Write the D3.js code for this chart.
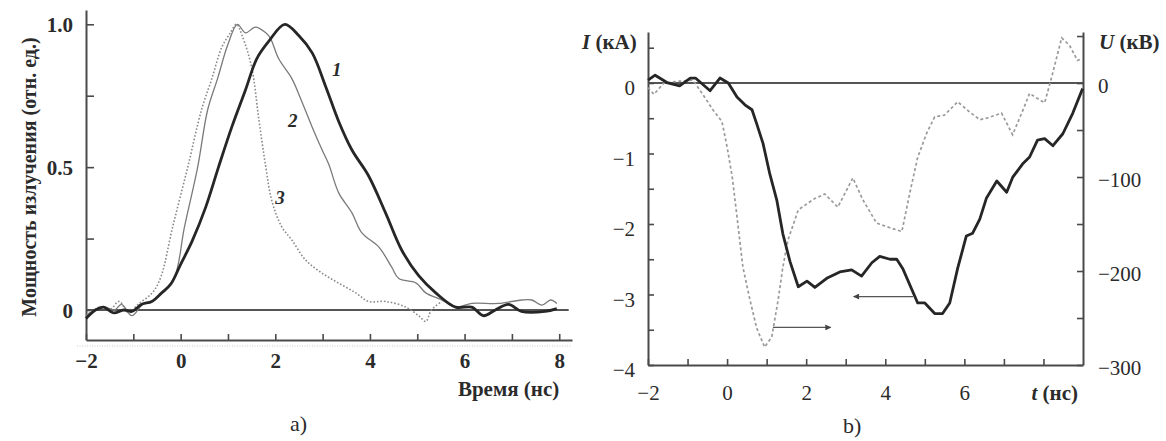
<!DOCTYPE html>
<html>
<head>
<meta charset="utf-8">
<script src="https://cdn.jsdelivr.net/npm/d3@7/dist/d3.min.js"></script>
<style>
  html, body { margin: 0; padding: 0; background: #fff; }
  svg { display: block; }
  text { font-family: "Liberation Serif", "Times New Roman", serif; fill: #2b2b2b; }
</style>
</head>
<body>
<svg id="chart" width="1166" height="441"></svg>
<script>
// ---------- Panel a) : radiation power vs time ----------
const timeA1 = [-2, -1.8, -1.63, -1.42, -1.2, -1.03, -0.82, -0.61, -0.4, -0.21, 0, 0.24, 0.53, 0.8, 1.08, 1.37, 1.61, 1.86, 2.2, 2.5, 2.78, 3.07, 3.34, 3.62, 3.97, 4.33, 4.67, 5.03, 5.39, 5.81, 6.15, 6.4, 6.65, 6.93, 7.2, 7.7, 7.95];
const power1 = [-0.03, 0, 0.01, -0.01, 0, -0.005, 0.02, 0.03, 0.06, 0.09, 0.16, 0.24, 0.36, 0.5, 0.64, 0.77, 0.88, 0.94, 1.0, 0.96, 0.9, 0.78, 0.66, 0.56, 0.47, 0.34, 0.21, 0.12, 0.06, 0.01, 0.01, -0.02, 0, 0.02, -0.005, -0.005, 0.005];

const timeA2 = [-2, -1.8, -1.6, -1.4, -1.25, -1.03, -0.8, -0.6, -0.4, -0.13, 0.08, 0.36, 0.57, 0.78, 1.0, 1.2, 1.37, 1.58, 1.8, 1.9, 2.07, 2.35, 2.56, 2.78, 2.99, 3.13, 3.34, 3.62, 3.83, 4.19, 4.46, 4.61, 4.97, 5.18, 5.52, 5.81, 6.15, 6.72, 7.21, 7.42, 7.63, 7.82, 7.95];
const power2 = [-0.02, 0.0, 0.01, 0.0, 0.02, -0.02, 0.02, 0.03, 0.06, 0.115, 0.29, 0.5, 0.7, 0.81, 0.93, 1.0, 0.97, 0.99, 0.97, 0.95, 0.88, 0.81, 0.73, 0.64, 0.56, 0.51, 0.41, 0.34, 0.27, 0.22, 0.15, 0.11, 0.095, 0.06, 0.035, 0.01, 0.023, 0.023, 0.035, 0.035, 0.017, 0.035, 0.023];

const timeA3 = [-2, -1.7, -1.5, -1.3, -1.1, -0.9, -0.6, -0.42, -0.17, 0.15, 0.44, 0.66, 0.87, 1.05, 1.18, 1.3, 1.5, 1.65, 1.8, 1.93, 2.14, 2.35, 2.64, 2.98, 3.34, 3.7, 3.97, 4.33, 4.76, 5.03, 5.18, 5.3, 5.52];
const power3 = [-0.02, 0.01, 0.0, 0.03, -0.01, 0.02, 0.06, 0.115, 0.29, 0.5, 0.7, 0.81, 0.92, 0.97, 1.0, 0.96, 0.85, 0.67, 0.5, 0.38, 0.29, 0.245, 0.175, 0.13, 0.094, 0.06, 0.03, 0.03, 0.01, -0.02, -0.04, 0, 0.03];

const ticksA_x = [-2, -1, 0, 1, 2, 3, 4, 5, 6, 7, 8];
const labelsA_x = [-2, 0, 2, 4, 6, 8];
const ticksA_y = [0, 0.25, 0.5, 0.75, 1.0];
const labelsA_y = ["0", "0.5", "1.0"];

// ---------- Panel b) : current and voltage vs time ----------
const timeI = [-2, -1.82, -1.5, -1.2, -0.93, -0.8, -0.43, -0.18, 0.03, 0.25, 0.45, 0.63, 0.75, 0.91, 1.08, 1.26, 1.41, 1.59, 1.8, 2.02, 2.22, 2.52, 2.85, 3.15, 3.4, 3.66, 3.86, 4.12, 4.29, 4.44, 4.82, 5.0, 5.25, 5.45, 5.63, 5.83, 6.05, 6.21, 6.39, 6.56, 6.82, 7.07, 7.22, 7.47, 7.65, 7.85, 8.03, 8.24, 8.49, 8.74, 8.99];
const currentI = [0.04, 0.11, 0, -0.04, 0.07, 0.07, -0.11, 0.07, 0, -0.2, -0.31, -0.38, -0.58, -0.86, -1.29, -1.67, -2.14, -2.53, -2.89, -2.81, -2.9, -2.77, -2.68, -2.65, -2.74, -2.55, -2.46, -2.5, -2.5, -2.63, -3.12, -3.12, -3.27, -3.27, -3.12, -2.63, -2.17, -2.13, -1.93, -1.63, -1.39, -1.55, -1.34, -1.15, -1.05, -0.81, -0.79, -0.89, -0.72, -0.43, -0.08];

const timeU = [-2, -1.85, -1.6, -1.2, -0.86, -0.6, -0.35, -0.13, 0, 0.13, 0.25, 0.4, 0.58, 0.75, 0.95, 1.13, 1.29, 1.41, 1.54, 1.8, 2.17, 2.47, 2.8, 3.18, 3.43, 3.78, 4.12, 4.42, 4.62, 4.82, 5.05, 5.25, 5.5, 5.83, 6.14, 6.39, 6.59, 6.94, 7.22, 7.45, 7.65, 7.83, 8.03, 8.2, 8.46, 8.66, 8.86, 8.97];
const voltageU = [-5, -12, 0, 2, 3, -13, -29, -41, -68, -100, -142, -196, -231, -261, -281, -270, -231, -196, -167, -135, -124, -118, -132, -101, -124, -149, -154, -158, -117, -79, -53, -36, -34, -20, -31, -39, -37, -32, -55, -32, -11, -16, -21, 5, 48, 40, 24, 26];

const ticksB_x = [-2, -1, 0, 1, 2, 3, 4, 5, 6, 7, 8];
const labelsB_x = [-2, 0, 2, 4, 6];
const ticksB_I = [-4, -3.5, -3, -2.5, -2, -1.5, -1, -0.5, 0, 0.5];
const labelsB_I = [-4, -3, -2, -1, 0];
const ticksB_U = [-300, -250, -200, -150, -100, -50, 0, 50];
const labelsB_U = [-300, -200, -100, 0];

// arrow annotations (data coords): [t start, t end, value]
const arrowI = [4.7, 3.2, -3.03];
const arrowU = [1.16, 2.62, -260];

// ================= drawing =================
const svg = d3.select("#chart");
const minus = v => (v < 0 ? "\u2212" + Math.abs(v) : String(v));
const axisColor = "#4a4a4a";

function styleAxis(g, fontSize, weight) {
  g.select(".domain").attr("stroke", axisColor).attr("stroke-width", 2);
  g.selectAll(".tick line").attr("stroke", axisColor).attr("stroke-width", 1.6);
  g.selectAll(".tick text")
    .attr("font-family", "Liberation Serif")
    .attr("font-size", fontSize)
    .attr("font-weight", weight)
    .attr("fill", "#2b2b2b");
}

// ---- Panel a ----
const xA = d3.scaleLinear().domain([-2, 8.27]).range([86, 572]);
const yA = d3.scaleLinear().domain([-0.105, 1.05]).range([340, 10]);

const gA = svg.append("g");

// zero line
gA.append("line")
  .attr("x1", xA(-2)).attr("x2", xA(8.2))
  .attr("y1", yA(0)).attr("y2", yA(0))
  .attr("stroke", "#555").attr("stroke-width", 2);

// faint dotted scan line under the time axis
gA.append("line")
  .attr("x1", 77).attr("x2", xA(8.27))
  .attr("y1", yA(-0.105) + 6).attr("y2", yA(-0.105) + 6)
  .attr("stroke", "#c8c8c8").attr("stroke-width", 1).attr("stroke-dasharray", "1,1.5");

const axA_x = gA.append("g")
  .attr("transform", `translate(0,${yA(-0.105)})`)
  .call(d3.axisBottom(xA).tickValues(ticksA_x).tickSizeInner(-6).tickSizeOuter(0).tickPadding(13)
    .tickFormat(d => labelsA_x.includes(d) ? minus(d) : ""));
styleAxis(axA_x, 21, "bold");

const axA_y = gA.append("g")
  .attr("transform", `translate(${xA(-2)},0)`)
  .call(d3.axisLeft(yA).tickValues(ticksA_y).tickSizeInner(-8).tickSizeOuter(0).tickPadding(13)
    .tickFormat(d => { const s = d === 1 ? "1.0" : String(d); return labelsA_y.includes(s) ? s : ""; }));
styleAxis(axA_y, 21, "bold");
axA_y.selectAll(".tick text").attr("dy", "0.36em");

const lineA = d3.line().curve(d3.curveCatmullRom.alpha(0.5));
const ptsA = (ts, vs) => ts.map((t, i) => [xA(t), yA(vs[i])]);

gA.append("path").attr("d", lineA(ptsA(timeA3, power3)))
  .attr("fill", "none").attr("stroke", "#8a8a8a").attr("stroke-width", 1.6)
  .attr("stroke-dasharray", "1.6,1.9");
gA.append("path").attr("d", lineA(ptsA(timeA2, power2)))
  .attr("fill", "none").attr("stroke", "#7a7a7a").attr("stroke-width", 1.3);
gA.append("path").attr("d", lineA(ptsA(timeA1, power1)))
  .attr("fill", "none").attr("stroke", "#262626").attr("stroke-width", 2.8)
  .attr("stroke-linejoin", "round");

// curve labels
const curveLabel = (x, y, s) => gA.append("text").attr("x", x).attr("y", y)
  .attr("font-size", 19).attr("font-style", "italic").attr("font-weight", "bold")
  .attr("fill", "#444").text(s);
curveLabel(xA(3.2), yA(0.82), "1");
curveLabel(xA(2.27), yA(0.64), "2");
curveLabel(xA(2.0), yA(0.37), "3");

// axis titles
gA.append("text")
  .attr("transform", `translate(36,${177}) rotate(-90)`)
  .attr("text-anchor", "middle")
  .attr("font-size", 20).attr("font-weight", "bold")
  .text("Мощность излучения (отн. ед.)");
gA.append("text")
  .attr("x", xA(8)).attr("y", 396).attr("text-anchor", "end")
  .attr("font-size", 21).attr("font-weight", "bold")
  .text("Время (нс)");
gA.append("text")
  .attr("x", 290).attr("y", 431)
  .attr("font-size", 22)
  .text("a)");

// ---- Panel b ----
const xB = d3.scaleLinear().domain([-2, 9]).range([648, 1083]);
const yI = d3.scaleLinear().domain([-4, 0.723]).range([365, 32]);
const yU = d3.scaleLinear().domain([-300, 54.3]).range([365, 32]);

const gB = svg.append("g");

gB.append("line")
  .attr("x1", xB(-2)).attr("x2", xB(9))
  .attr("y1", yI(0)).attr("y2", yI(0))
  .attr("stroke", "#555").attr("stroke-width", 2);

const axB_x = gB.append("g")
  .attr("transform", `translate(0,${yI(-4)})`)
  .call(d3.axisBottom(xB).tickValues(ticksB_x).tickSizeInner(-6).tickSizeOuter(0).tickPadding(20)
    .tickFormat(d => labelsB_x.includes(d) ? minus(d) : ""));
styleAxis(axB_x, 21, "normal");

const axB_I = gB.append("g")
  .attr("transform", `translate(${xB(-2)},0)`)
  .call(d3.axisLeft(yI).tickValues(ticksB_I).tickSizeInner(-6).tickSizeOuter(0).tickPadding(13)
    .tickFormat(d => labelsB_I.includes(d) ? minus(d) : ""));
styleAxis(axB_I, 21, "normal");
axB_I.selectAll(".tick text").attr("dy", "0.55em");

const axB_U = gB.append("g")
  .attr("transform", `translate(${xB(9)},0)`)
  .call(d3.axisRight(yU).tickValues(ticksB_U).tickSizeInner(-6).tickSizeOuter(0).tickPadding(15)
    .tickFormat(d => labelsB_U.includes(d) ? minus(d) : ""));
styleAxis(axB_U, 21, "normal");
axB_U.selectAll(".tick text").attr("dy", "0.45em");

const lineB = d3.line();
gB.append("path")
  .attr("d", lineB(timeU.map((t, i) => [xB(t), yU(voltageU[i])])))
  .attr("fill", "none").attr("stroke", "#9a9a9a").attr("stroke-width", 1.7)
  .attr("stroke-dasharray", "3,2.5");
gB.append("path")
  .attr("d", lineB(timeI.map((t, i) => [xB(t), yI(currentI[i])])))
  .attr("fill", "none").attr("stroke", "#262626").attr("stroke-width", 2.8)
  .attr("stroke-linejoin", "round");

// arrow markers
const defs = svg.append("defs");
defs.append("marker").attr("id", "head").attr("viewBox", "0 0 10 10")
  .attr("refX", 9).attr("refY", 5).attr("markerWidth", 9).attr("markerHeight", 6)
  .attr("markerUnits", "userSpaceOnUse").attr("orient", "auto")
  .append("path").attr("d", "M0,0 L10,5 L0,10 Z").attr("fill", "#444");

gB.append("line")
  .attr("x1", xB(arrowI[0])).attr("x2", xB(arrowI[1]))
  .attr("y1", yI(arrowI[2])).attr("y2", yI(arrowI[2]))
  .attr("stroke", "#555").attr("stroke-width", 1.2).attr("marker-end", "url(#head)");
gB.append("line")
  .attr("x1", xB(arrowU[0])).attr("x2", xB(arrowU[1]))
  .attr("y1", yU(arrowU[2])).attr("y2", yU(arrowU[2]))
  .attr("stroke", "#555").attr("stroke-width", 1.2).attr("marker-end", "url(#head)");

// axis titles
const titleB = (x, y, anchor, sym, unit) => {
  const t = gB.append("text").attr("x", x).attr("y", y).attr("text-anchor", anchor)
    .attr("font-size", 21).attr("font-weight", "bold");
  t.append("tspan").attr("font-style", "italic").text(sym);
  t.append("tspan").text(unit);
};
titleB(582, 49, "start", "I", " (кА)");
titleB(1099, 49, "start", "U", " (кВ)");
titleB(1078, 400, "end", "t", " (нс)");
gB.append("text")
  .attr("x", 843).attr("y", 433)
  .attr("font-size", 22)
  .text("b)");
</script>
</body>
</html>
